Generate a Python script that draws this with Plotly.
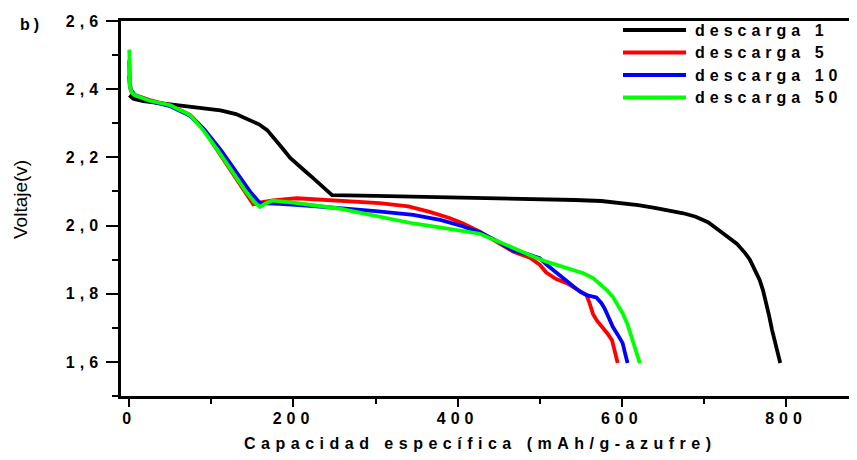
import plotly.graph_objects as go

# ---- data ----
d1_x = [0, 5, 17, 35, 58, 85, 111, 130, 145, 158, 168, 178, 187, 196, 204, 214, 224, 236, 247,
        300, 350, 400, 450, 500, 543, 575, 600, 620, 640, 660, 675, 690, 705, 715, 728, 740,
        750, 756, 762, 768, 772, 776, 779, 783, 788, 793]
d1_y = [2.382, 2.372, 2.365, 2.360, 2.355, 2.347, 2.338, 2.327, 2.312, 2.297, 2.280, 2.253, 2.225,
        2.198, 2.180, 2.160, 2.139, 2.113, 2.089,
        2.087, 2.085, 2.082, 2.079, 2.077, 2.075, 2.072, 2.066, 2.060, 2.052, 2.043, 2.036, 2.026,
        2.010, 1.992, 1.970, 1.947, 1.920, 1.900, 1.870, 1.840, 1.810, 1.775, 1.740, 1.694,
        1.645, 1.597]

d5_x = [0, 0.5, 2, 7, 25, 50, 74, 90, 106, 123, 140, 151, 160, 175, 204, 250, 305, 340, 366,
        390, 406, 427, 450, 468, 488, 500, 508, 520, 533, 545, 557, 561, 565, 570, 576, 582,
        588, 592, 595]
d5_y = [2.44, 2.41, 2.395, 2.383, 2.368, 2.352, 2.325, 2.285, 2.225, 2.165, 2.105, 2.062, 2.068,
        2.074, 2.080, 2.074, 2.066, 2.056, 2.040, 2.022, 2.007, 1.982, 1.950, 1.923, 1.906,
        1.885, 1.862, 1.843, 1.831, 1.815, 1.796, 1.770, 1.740, 1.720, 1.703, 1.685, 1.664,
        1.630, 1.597]

d10_x = [0, 0.5, 2, 7, 25, 50, 74, 92, 112, 130, 148, 159, 184, 220, 265, 300, 346, 380, 406,
         427, 450, 468, 485, 500, 510, 521, 535, 549, 558, 569, 575, 579, 584, 589, 595, 601,
         604, 607]
d10_y = [2.485, 2.42, 2.398, 2.382, 2.365, 2.350, 2.322, 2.280, 2.220, 2.157, 2.097, 2.066, 2.064,
         2.058, 2.050, 2.042, 2.031, 2.016, 1.998, 1.980, 1.952, 1.926, 1.916, 1.904, 1.882,
         1.860, 1.833, 1.806, 1.795, 1.789, 1.773, 1.757, 1.730, 1.703, 1.680, 1.655, 1.625,
         1.597]

d50_x = [0, 0.3, 0.8, 3, 7, 25, 50, 74, 90, 108, 125, 142, 152, 159, 166, 174, 200, 224, 255,
         285, 315, 346, 386, 427, 448, 468, 488, 508, 530, 553, 565, 573, 582, 589, 595, 601,
         607, 612, 617, 622]
d50_y = [2.516, 2.45, 2.407, 2.39, 2.382, 2.366, 2.353, 2.324, 2.280, 2.220, 2.160, 2.100, 2.070,
         2.055, 2.065, 2.073, 2.067, 2.060, 2.050, 2.036, 2.021, 2.006, 1.992, 1.976, 1.955,
         1.933, 1.913, 1.894, 1.877, 1.860, 1.846, 1.830, 1.810, 1.791, 1.768, 1.743, 1.710,
         1.674, 1.635, 1.596]

series_names = ["descarga 1", "descarga 5", "descarga 10", "descarga 50"]
series_colors = ["#000000", "#ff0000", "#0000ff", "#00ff00"]

x_tickvals = [0, 200, 400, 600, 800]
x_ticktext = ["0", "200", "400", "600", "800"]
y_tickvals = [1.6, 1.8, 2.0, 2.2, 2.4, 2.6]
y_ticktext = ["1,6", "1,8", "2,0", "2,2", "2,4", "2,6"]

x_title = "Capacidad específica (mAh/g-azufre)"
y_title = "Voltaje(v)"
panel_label = "b)"

# ---- figure ----
FONT = "Liberation Sans, Arial, sans-serif"
SP = "letter-spacing:5px"


def spaced(t, sp=SP):
    return f'<span style="{sp}">{t}</span>'


fig = go.Figure()
xs = [d1_x, d5_x, d10_x, d50_x]
ys = [d1_y, d5_y, d10_y, d50_y]
for name, color, x, y in zip(series_names, series_colors, xs, ys):
    fig.add_trace(go.Scatter(x=x, y=y, mode="lines", name=name,
                             line=dict(color=color, width=3.8),
                             showlegend=False))

# the page body adds an 8px offset; layout is expressed in page pixels
OFF = 8
W, H = 857 - OFF, 460 - OFF
ml, mr, mt, mb = 121 - OFF, 0, 21 - OFF, 460 - 396
pw, ph = W - ml - mr, H - mt - mb


def px2paper(px, py):
    fx, fy = px - OFF, py - OFF
    return (fx - ml) / pw, (H - mb - fy) / ph


fig.update_layout(
    width=W, height=H,
    margin=dict(l=ml, r=mr, t=mt, b=mb, pad=0, autoexpand=False),
    paper_bgcolor="white", plot_bgcolor="white",
    font=dict(family=FONT, color="black", size=16),
    xaxis=dict(range=[-10.1, 886.5], showgrid=False, zeroline=False, automargin=False,
               showline=True, linecolor="black", linewidth=2.5, mirror=True,
               ticks="outside", ticklen=8, tickwidth=2, tickcolor="black",
               tickvals=x_tickvals, ticktext=[spaced(t) for t in x_ticktext],
               ticklabelstandoff=-2,
               tickfont=dict(family=FONT, size=16, weight="bold"),
               minor=dict(tickvals=[100, 300, 500, 700], ticklen=5, tickwidth=2,
                          tickcolor="black", ticks="outside")),
    yaxis=dict(range=[1.5, 2.6], showgrid=False, zeroline=False, automargin=False,
               showline=True, linecolor="black", linewidth=2.5,
               ticks="outside", ticklen=12, tickwidth=2, tickcolor="black",
               tickvals=y_tickvals, ticktext=[spaced(t) for t in y_ticktext],
               ticklabelstandoff=0,
               tickfont=dict(family=FONT, size=16, weight="bold"),
               minor=dict(tickvals=[1.5, 1.7, 1.9, 2.1, 2.3, 2.5], ticklen=6,
                          tickwidth=2, tickcolor="black", ticks="outside")),
)

annotations = []
# axis titles
ax, ay = px2paper(480, 443)
annotations.append(dict(x=ax, y=ay, xref="paper", yref="paper", showarrow=False,
                        text=spaced(x_title, "letter-spacing:5.5px"),
                        font=dict(family=FONT, size=16, weight="bold"),
                        xanchor="center", yanchor="middle"))
ax, ay = px2paper(20, 200)
annotations.append(dict(x=ax, y=ay, xref="paper", yref="paper", showarrow=False,
                        text=y_title, textangle=-90,
                        font=dict(family="Liberation Sans, Arial", size=19),
                        xanchor="center", yanchor="middle"))
ax, ay = px2paper(31, 24)
annotations.append(dict(x=ax, y=ay, xref="paper", yref="paper", showarrow=False,
                        text=spaced(panel_label, "letter-spacing:4px"),
                        font=dict(family=FONT, size=16, weight="bold"),
                        xanchor="center", yanchor="middle"))

# legend drawn manually
shapes = []
row_y = [30, 52.5, 75, 97.5]
for name, color, ry in zip(series_names, series_colors, row_y):
    x0, y0 = px2paper(623, ry)
    x1, _ = px2paper(686, ry)
    shapes.append(dict(type="line", xref="paper", yref="paper", x0=x0, x1=x1, y0=y0, y1=y0,
                       line=dict(color=color, width=4)))
    tx, ty = px2paper(693, ry)
    annotations.append(dict(x=tx, y=ty, xref="paper", yref="paper", showarrow=False,
                            text=spaced(name), xanchor="left", yanchor="middle",
                            font=dict(family=FONT, size=16, weight="bold")))

fig.update_layout(annotations=annotations, shapes=shapes)
fig.write_html("out.html")
